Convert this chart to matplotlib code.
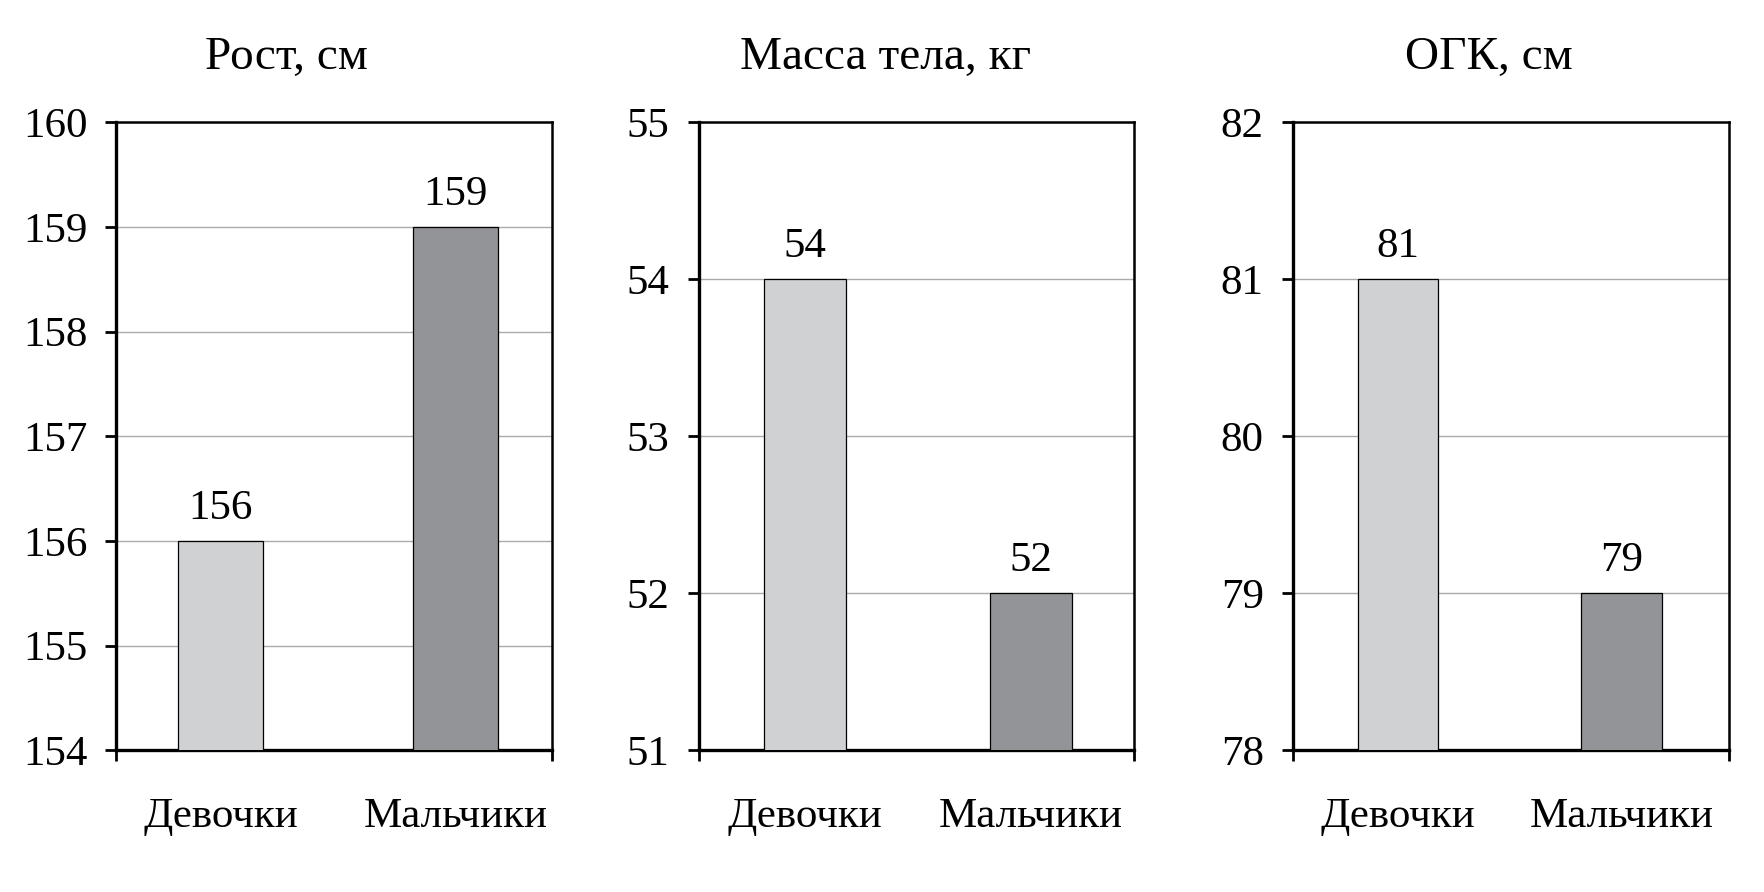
import matplotlib
matplotlib.use('Agg')
import matplotlib.pyplot as plt

plt.rcParams['font.family'] = ['Liberation Serif', 'DejaVu Serif']

categories = ['Девочки', 'Мальчики']
titles = ['Рост, см', 'Масса тела, кг', 'ОГК, см']
height_vals = [156, 159]
mass_vals = [54, 52]
chest_vals = [81, 79]
ylims = [(154, 160), (51, 55), (78, 82)]
bar_colors = ['#d0d1d3', '#939498']

series = [height_vals, mass_vals, chest_vals]

fig = plt.figure(figsize=(17.64, 8.92), dpi=100)

lefts = [0.066, 0.396, 0.733]
width = 0.247
xlims = [(-0.443, 1.412), (-0.47, 1.457), (-0.47, 1.48)]
title_x = [0.39, 0.43, 0.45]
fs = 31

for i in range(3):
    ax = fig.add_axes([lefts[i], 0.159, width, 0.704])
    vals = series[i]
    xs = range(len(categories))
    ax.bar(xs, vals, width=0.36, color=bar_colors, edgecolor='black',
           linewidth=0.9, zorder=3)
    # values above bars
    for x, v in zip(xs, vals):
        ax.annotate(str(v), (x, v), xytext=(0, 16), textcoords='offset points',
                    ha='center', va='baseline', fontsize=fs)
    lo, hi = ylims[i]
    ax.set_ylim(lo, hi)
    ax.set_xlim(*xlims[i])
    ax.set_yticks(range(lo, hi + 1))
    ax.yaxis.grid(True, color='#aaaaaa', linewidth=1.0, zorder=0)
    ax.tick_params(axis='y', direction='out', length=8, width=2, pad=13,
                   labelsize=fs)
    ax.set_xticks(list(xs))
    ax.set_xticklabels(categories)
    ax.tick_params(axis='x', which='major', length=0, pad=34, labelsize=fs)
    ax.set_xticks(list(xlims[i]), minor=True)
    ax.tick_params(axis='x', which='minor', direction='out', length=8, width=2)
    for s in ['left', 'bottom']:
        ax.spines[s].set_linewidth(2.4)
    for s in ['top', 'right']:
        ax.spines[s].set_linewidth(1.8)
    ax.set_title(titles[i], fontsize=34, x=title_x[i], pad=38)

fig.savefig('out.png', dpi=100, facecolor='white')
